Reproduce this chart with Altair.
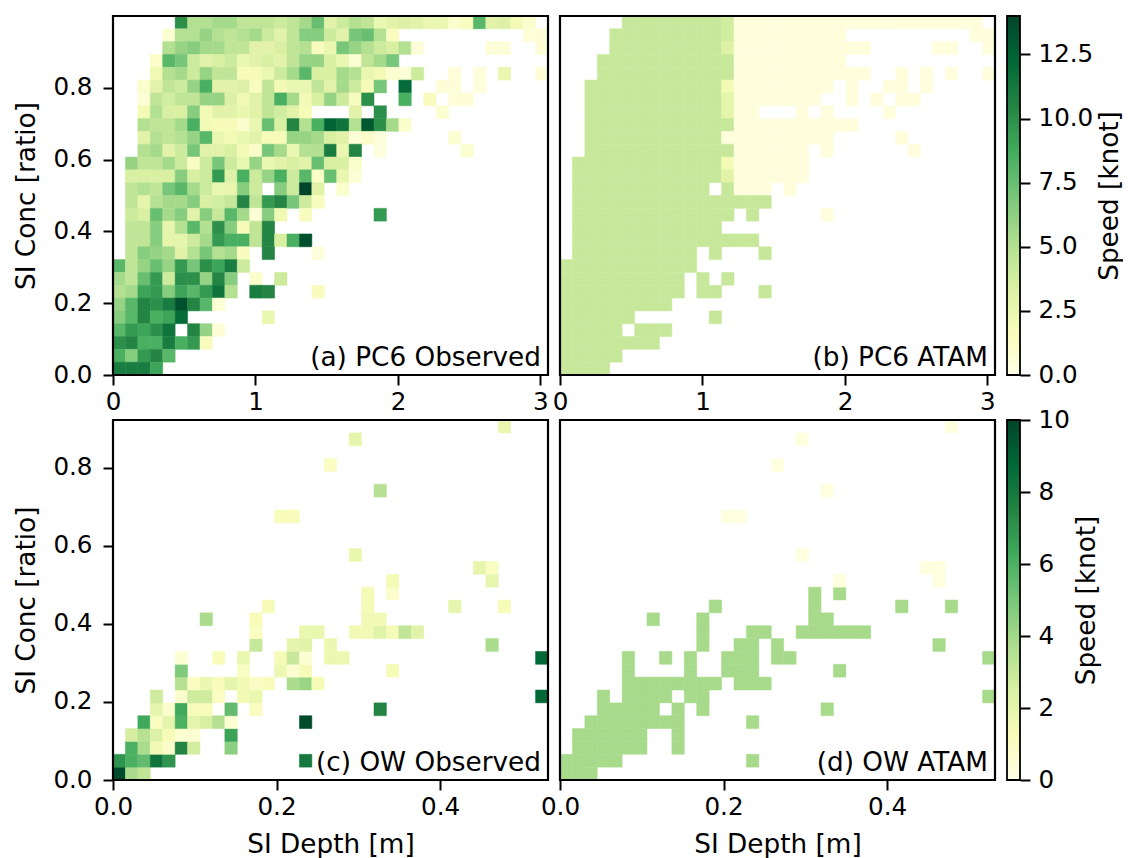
import altair as alt
import pandas as pd

_ = None
YLGN = ["#ffffe5", "#f7fcb9", "#d9f0a3", "#addd8e", "#78c679", "#41ab5d", "#238443", "#006837", "#004529"]
NCOL, NROW = 35, 28

# Panel (a): speed per cell, top row first; (first column, values)
PC6_OBS = [
    (5, [10, 5, 5, 5.5, 5.5, 4.5, 4.5, 4.5, 4, 4.5, 5.5, 7.5, 3, 4, 5, 4.5, 2.5, 3, 3.3, 3, 2.5, 2.5, 1, 1.5, 8, 3, 3.3, 2, 1]),
    (4, [0.8, 5, 5, 6, 5, 4.5, 5, 5.5, 4, 3, 4.5, 6.5, 6.5, 4, 3, 7, 7.5, 5, 1.5, _, _, _, _, _, _, _, _, _, _, 0.5, 0.5]),
    (4, [5, 6, 6.5, 5.5, 5.5, 4.5, 4.5, 3, 3, 3.5, 4.5, 5, 1.5, 2.5, 7, 6, 5, 4, 3.5, 5, 0.5, _, _, _, _, _, 0.5, 0.5, _, _, 0.5]),
    (3, [1.2, 8, 7, 4, 3, 3.5, 4, 2.5, 3, 3.5, 3, 4.5, 6, 6, 3.5, 2.5, 0.8, 4.5, 5.5, 7]),
    (3, [2.2, 5, 5.5, 4, 6, 4.5, 4.5, 1.8, 1.8, 2.5, 4, 5.5, 8, 3.5, 3.5, 5.5, 5, 2.5, 2, 0.8, 0.7, 4, _, _, 0.5, _, 0.4, _, 2.5, _, _, 0.5]),
    (2, [1, 3, 4.5, 4, 6, 8.5, 3, 3, 3.3, 1.5, 4.5, 2, 2.5, 2.5, 4.5, 3, 5.5, 4, 1.8, 7, _, 12, _, _, 0.5, 0.5, _, 0.4]),
    (2, [0.6, 4.5, 3.8, 4.5, 4.5, 6, 6, 3.3, 2.2, 3, 4.5, 8.5, 5.5, 2, 3.5, 6, 4, 1.5, 10, _, _, 8.5, _, 1.5, _, 0.5, 0.5]),
    (2, [2, 5, 3.5, 3.5, 6.5, 2, 3, 3, 2.5, 3, 4.5, 3.8, 3, 1.8, _, _, _, 3, _, 10, _, _, _, _, 0.8]),
    (2, [5, 4.5, 4.5, 5.5, 8.5, 2, 1.8, 1.8, 1, 2.5, 7.5, 3.5, 10.5, 5, 8.5, 12.5, 11.5, 5, 13, 10, 5.5, 1]),
    (2, [3, 5, 4.5, 5, 6, 8, 2.5, 2, 2.5, 3, 1.8, 1.8, 6, 6, 5.5, 3.5, 3, 0.5, 1.2, 0.4, _, _, _, _, _, 0.8]),
    (2, [5, 5.5, 3, 4, 7, 3, 3, 3.5, 2, 1.2, 7, 5.5, 2.5, 5, 5, 11, 2.5, 10.5, _, 0.4, _, _, _, _, _, _, 0.8]),
    (1, [6, 4.5, 4.5, 5.5, 4, 1.3, 4, 7, 4, 2.5, 6, 2.5, 3, 3.5, 3, 7.5, 3.5, 3.5, 1]),
    (1, [3.5, 3.5, 3.5, 3.5, 6.5, 3.5, 4, 9.5, 3.2, 8.5, 4, 6, 8.5, 4, 8, 1.2, 7.5, 2.5, 0.6]),
    (1, [4.5, 5, 4.5, 7, 8, 5.5, 4, 2.5, 2.7, 6.5, 4, _, 6.5, 4, 14, 3, _, 1]),
    (1, [4.5, 2.8, 4.8, 5.5, 5.5, 6.5, 3.5, 3.8, 4.3, 10.5, 4.5, 9.5, 10.5, 7, 4, 1.5]),
    (1, [4, 3.5, 7.5, 5.5, 6.5, 3, 6.5, 4.2, 8, 5.5, 0.6, 6.5, 2.2, _, 1.5, _, _, _, _, _, 9.5]),
    (1, [4.5, 4.5, 6.5, 2.7, 5, 8, 5, 10, 6.5, 1.8, 4.5, 10.5]),
    (1, [4.5, 4.5, 6.5, 2.8, 2.8, 4, 5.5, 9.5, 8.5, 8.5, 4.5, 10.5, 3.5, 8.5, 13.5]),
    (1, [4.5, 6.5, 6, 5.5, 3, 5, 7, 5, 5.5, 1.5, _, 10.5, _, _, _, 0.4]),
    (0, [8, 4.5, 6, 7.5, 6, 9.5, 7, 10, 9, 11, 4]),
    (0, [5.5, 4.5, 7.5, 9.5, 4, 10, 10, 6, 10.5, 6.5, _, 1, _, 4]),
    (0, [5, 5.5, 9, 9.5, 6.5, 9, 8, 9.5, 11.5, 5, _, 11, 10.5, _, _, _, 1.5]),
    (0, [6, 8, 10.5, 10, 11, 13.5, 10.5, 8, 0.7]),
    (0, [6.5, 8, 10.5, 8.5, 9, 12, _, _, _, _, _, _, 2.5]),
    (0, [8, 9.5, 9, 10, 11.5, _, 10.5, 6, 0.5]),
    (0, [10, 10.5, 8.5, 8.5, 11, 8.5, 9.5, 1.5]),
    (0, [8.5, 6.5, 9.5, 10.5, 8]),
    (0, [11, 11, 11, 9]),
]

# Panel (b): (first column, last column, speed), top row first
G, P = 4.2, 0.3
PC6_ATAM = [
    [(5, 12, G), (13, 13, 3.8), (14, 33, P)],
    [(4, 12, G), (13, 13, 3.8), (14, 22, P), (33, 34, P)],
    [(4, 12, G), (13, 13, 3.2), (14, 24, P), (30, 31, P), (34, 34, P)],
    [(3, 13, G), (14, 22, P)],
    [(3, 13, G), (14, 24, P), (27, 27, P), (29, 29, P), (31, 31, P), (34, 34, P)],
    [(2, 12, G), (13, 13, 2), (14, 21, P), (23, 23, P), (26, 27, P), (29, 29, P)],
    [(2, 12, G), (13, 13, 2.8), (14, 20, P), (23, 23, P), (25, 25, P), (27, 28, P)],
    [(2, 12, G), (13, 13, 2.8), (14, 15, P), (19, 19, P), (21, 21, P), (26, 26, P)],
    [(2, 13, G), (14, 23, P)],
    [(2, 12, G), (13, 21, P), (27, 27, P)],
    [(2, 13, G), (14, 19, P), (21, 21, P), (28, 28, P)],
    [(1, 12, G), (13, 13, 2), (14, 19, P)],
    [(1, 12, G), (13, 13, 3), (14, 19, P)],
    [(1, 11, G), (13, 13, G), (14, 16, P), (18, 18, P)],
    [(1, 16, G)],
    [(1, 13, G), (15, 15, G), (21, 21, P)],
    [(1, 12, G)],
    [(1, 15, G)],
    [(1, 10, G), (12, 12, G), (16, 16, G)],
    [(0, 10, G)],
    [(0, 9, G), (11, 11, G), (13, 13, G)],
    [(0, 9, G), (11, 12, G), (16, 16, G)],
    [(0, 8, G)],
    [(0, 5, G), (12, 12, G)],
    [(0, 4, G), (6, 8, G)],
    [(0, 7, G)],
    [(0, 4, G)],
    [(0, 3, G)],
]

# Panel (c): {row from bottom: (first column, values)}
OW_OBS = {
    0: [(0, [9.8, 3.8, 3.2])],
    1: [(0, [7, 6, 5.5, 8.2, 7]), (15, [8])],
    2: [(1, [6, 3.8, 1.5, 0.8, 7.5, 2.7]), (9, [4.5])],
    3: [(1, [2.6, 3.5, 2.3, 1.3, 0.6, 0.6]), (9, [6.5])],
    4: [(2, [6.3, 1, 2, 6, 2, 2.5, 3.5, 0.6]), (15, [9.8])],
    5: [(3, [2, 0.7, 6.3, 1.2, 1.2]), (9, [5.5]), (11, [1]), (21, [7.5])],
    6: [(3, [2.8]), (5, [0.7, 2.8, 2.8, 1]), (10, [1.5, 1.8]), (34, [8.7])],
    7: [(5, [3.5, 1, 1.7, 1.2, 2, 1.5, 0.9, 1.2]), (14, [3.8, 4.2, 1.3])],
    8: [(5, [4.8]), (10, [1]), (13, [1.7, 0.6, 1.3]), (22, [1.3])],
    9: [(5, [0.5]), (8, [1.2]), (10, [1.8]), (13, [1.3, 3, 0.5]), (17, [1.7, 1.7]), (34, [8.7])],
    10: [(11, [3]), (14, [2, 2.2]), (17, [1.7]), (30, [3.8])],
    11: [(11, [1]), (15, [1.8, 1.8]), (19, [1.5, 1.5, 2.2, 1.4, 3.2, 2.2])],
    12: [(7, [3.8]), (11, [1.3]), (20, [1.5, 1.5])],
    13: [(12, [1.3]), (20, [1.4]), (27, [1.9]), (31, [1.3])],
    14: [(20, [1.4]), (22, [0.7])],
    15: [(22, [1.4]), (30, [1.9])],
    16: [(29, [2, 1])],
    17: [(19, [1.8])],
    20: [(13, [1.2, 1.2])],
    22: [(21, [3.5])],
    24: [(17, [1])],
    26: [(19, [2])],
    27: [(31, [1.8])],
}

# Panel (d): {row from bottom: (first column, last column, speed)}
H, L = 3.9, 0.2
OW_ATAM = {
    0: [(0, 2, H)],
    1: [(0, 4, H), (15, 15, H)],
    2: [(1, 6, H), (9, 9, H)],
    3: [(1, 6, H), (9, 9, H)],
    4: [(2, 9, H), (15, 15, H)],
    5: [(3, 7, H), (9, 9, H), (11, 11, H), (21, 21, H)],
    6: [(3, 3, H), (5, 8, H), (10, 11, H), (34, 34, H)],
    7: [(5, 12, H), (14, 16, H)],
    8: [(5, 5, H), (10, 10, H), (13, 15, H), (22, 22, H)],
    9: [(5, 5, H), (8, 8, H), (10, 10, H), (13, 15, H), (17, 18, H), (34, 34, H)],
    10: [(11, 11, H), (14, 15, H), (17, 17, H), (30, 30, H)],
    11: [(11, 11, H), (15, 16, H), (19, 24, H)],
    12: [(7, 7, H), (11, 11, H), (20, 21, H)],
    13: [(12, 12, H), (20, 20, H), (27, 27, H), (31, 31, H)],
    14: [(20, 20, H), (22, 22, H)],
    15: [(22, 22, L), (30, 30, L)],
    16: [(29, 30, L)],
    17: [(19, 19, L)],
    20: [(13, 14, L)],
    22: [(21, 21, L)],
    24: [(17, 17, L)],
    26: [(19, 19, L)],
    27: [(31, 31, L)],
}

W, H_TOP, H_BOT = 435, 359, 360
TICK = 24.6
TITLE = 26.3
FONT = "DejaVu Sans"


def cells_from_values(rows):
    out = []
    for row, (start, vals) in rows:
        for k, v in enumerate(vals):
            if v is not None:
                out.append((start + k, row, v))
    return out


def cells_from_spans(rows):
    out = []
    for row, spans in rows:
        for a, b, v in spans:
            for c in range(a, b + 1):
                out.append((c, row, v))
    return out


a_cells = cells_from_values([(NROW - 1 - i, r) for i, r in enumerate(PC6_OBS)])
b_cells = cells_from_spans([(NROW - 1 - i, r) for i, r in enumerate(PC6_ATAM)])
c_cells = cells_from_values([(row, seg) for row, segs in OW_OBS.items() for seg in segs])
d_cells = cells_from_spans(list(OW_ATAM.items()))


def panel(cells, xmax, ymax, vmax, height, xticks, xfmt, yticks, label, ytitle, xtitle):
    dx, dy = xmax / NCOL, ymax / NROW
    df = pd.DataFrame(cells, columns=["col", "row", "v"])
    df["x0"] = df.col * dx
    df["x1"] = (df.col + 1) * dx
    df["y0"] = df.row * dy
    df["y1"] = (df.row + 1) * dy
    dom = [vmax * i / 8 for i in range(9)]
    scale = alt.Scale(domain=dom, range=YLGN, interpolate="rgb")
    xaxis = alt.Axis(values=xticks, format=xfmt, title=xtitle, grid=False, domain=False, tickSize=10, tickWidth=2,
                     tickColor="black", labelColor="black", labelFont=FONT, labelFontSize=TICK, titleFont=FONT,
                     titleFontSize=TITLE, titleFontWeight="normal", titleColor="black", labelOverlap=False,
                     labelFlush=False, labelPadding=5, titlePadding=13)
    if ytitle:
        yaxis = alt.Axis(values=yticks, format=".1f", title=ytitle, grid=False, domain=False, tickSize=10, tickWidth=2,
                         tickColor="black", labelColor="black", labelFont=FONT, labelFontSize=TICK, titleFont=FONT,
                         titleFontSize=TITLE, titleFontWeight="normal", titleColor="black", labelOverlap=False,
                         labelFlush=False, labelPadding=11, titlePadding=12)
    else:
        yaxis = None
    rects = alt.Chart(df).mark_rect(strokeWidth=0.5).encode(
        x=alt.X("x0:Q", scale=alt.Scale(domain=[0, xmax], nice=False), axis=xaxis),
        x2="x1:Q",
        y=alt.Y("y0:Q", scale=alt.Scale(domain=[0, ymax], nice=False), axis=yaxis),
        y2="y1:Q",
        fill=alt.Fill("v:Q", scale=scale, legend=None),
        stroke=alt.Stroke("v:Q", scale=scale, legend=None),
        tooltip=alt.value(None),
    )
    frame = alt.Chart(pd.DataFrame({"f": [0]})).mark_rect(fill=None, stroke="black", strokeWidth=2.2).encode(
        x=alt.value(0), x2=alt.value(W), y=alt.value(0), y2=alt.value(height)
    )
    text = alt.Chart(pd.DataFrame({"t": [label]})).mark_text(
        align="right", baseline="alphabetic", font=FONT, fontSize=TITLE, color="black"
    ).encode(x=alt.value(W - 7), y=alt.value(height - 9), text="t:N")
    return alt.layer(rects, frame, text).resolve_scale(fill="independent", stroke="independent").properties(width=W, height=height)


def colorbar(vmax, ticks, fmt, height):
    stops = [alt.GradientStop(color=c, offset=i / 8) for i, c in enumerate(YLGN)]
    grad = alt.LinearGradient(gradient="linear", x1=0, x2=0, y1=1, y2=0, stops=stops)
    bar = alt.Chart(pd.DataFrame({"lo": [0], "hi": [vmax]})).mark_rect(color=grad).encode(
        x=alt.value(0), x2=alt.value(13),
        y=alt.Y("lo:Q", scale=alt.Scale(domain=[0, vmax], nice=False),
                axis=alt.Axis(orient="right", values=ticks, format=fmt, title="Speed [knot]", titleAngle=270,
                              titleBaseline="top", grid=False, domain=False, tickSize=10, tickWidth=2,
                              tickColor="black", labelColor="black", labelFont=FONT, labelFontSize=TICK,
                              titleFont=FONT, titleFontSize=TITLE, titleFontWeight="normal", titleColor="black",
                              labelOverlap=False, labelFlush=False, labelPadding=8, titlePadding=4)),
        y2="hi:Q",
    )
    frame = alt.Chart(pd.DataFrame({"f": [0]})).mark_rect(fill=None, stroke="black", strokeWidth=1.8).encode(
        x=alt.value(0), x2=alt.value(13), y=alt.value(0), y2=alt.value(height)
    )
    return alt.layer(bar, frame).properties(width=13, height=height)


A = panel(a_cells, 3.053, 1.0, 14, H_TOP, [0, 1, 2, 3], "d", [0, .2, .4, .6, .8], "(a) PC6 Observed", "SI Conc [ratio]", None)
B = panel(b_cells, 3.053, 1.0, 14, H_TOP, [0, 1, 2, 3], "d", [], "(b) PC6 ATAM", None, None)
C = panel(c_cells, 0.532, 0.923, 10, H_BOT, [0, .2, .4], ".1f", [0, .2, .4, .6, .8], "(c) OW Observed", "SI Conc [ratio]", "SI Depth [m]")
D = panel(d_cells, 0.532, 0.923, 10, H_BOT, [0, .2, .4], ".1f", [], "(d) OW ATAM", None, "SI Depth [m]")
CB1 = colorbar(14, [0, 2.5, 5, 7.5, 10, 12.5], ".1f", H_TOP)
CB2 = colorbar(10, [0, 2, 4, 6, 8, 10], "d", H_BOT)

chart = alt.concat(A, B, CB1, C, D, CB2, columns=3, spacing={"row": 45, "column": 12}, bounds="flush").resolve_scale(
    fill="independent", stroke="independent", x="independent", y="independent"
).properties(padding={"left": 5, "top": 6, "right": -1, "bottom": 0}, background="white").configure_view(stroke=None)

chart.save("out.html", embed_options={"renderer": "svg", "actions": False})
